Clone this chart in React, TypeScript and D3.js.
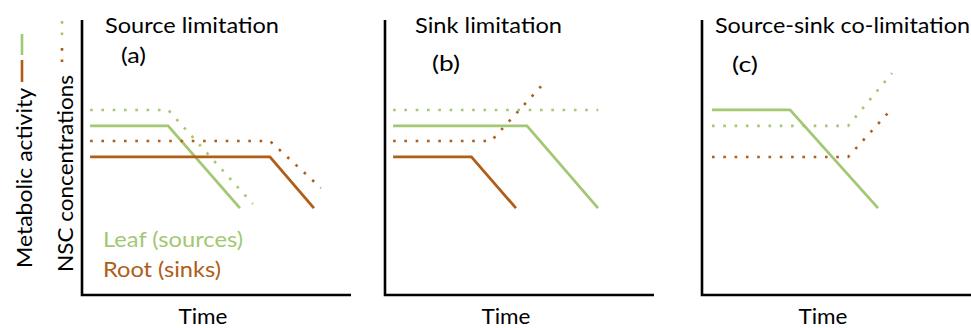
import React from "react";
import * as d3 from "d3";

// ---- data (time 0..100, level 0..100) ----
const panelTitles = ["Source limitation", "Sink limitation", "Source-sink co-limitation"];
const panelLabels = ["(a)", "(b)", "(c)"];
const xAxisLabel = "Time";
const yLabelActivity = "Metabolic activity";
const yLabelNSC = "NSC concentrations";
const legendNames = ["Leaf (sources)", "Root (sinks)"];

// Panel (a) Source limitation
const aLeafNSC = [[3, 67.3], [31.9, 67.3], [63.3, 33.1]];
const aLeafActivity = [[3, 61.5], [31.9, 61.5], [58.5, 31.6]];
const aRootNSC = [[3, 56], [69.6, 56], [88.5, 38.9]];
const aRootActivity = [[3, 50.2], [69.6, 50.2], [85.9, 31.6]];

// Panel (b) Sink limitation
const bLeafNSC = [[3, 67.3], [79, 67.3]];
const bLeafActivity = [[3, 61.5], [52.6, 61.5], [78.9, 31.6]];
const bRootNSC = [[3, 56], [39.3, 56], [59.3, 77.5]];
const bRootActivity = [[3, 50.2], [32, 50.2], [48.5, 31.6]];

// Panel (c) Source-sink co-limitation
const cLeafActivity = [[3.7, 67.3], [32.6, 67.3], [65.2, 31.6]];
const cLeafNSC = [[3.7, 61.5], [54.1, 61.5], [70.4, 80.7]];
const cRootNSC = [[3.7, 50.2], [54.1, 50.2], [68.9, 66.2]];

const GREEN = "#a2c873";
const BROWN = "#b05d17";
const FONT = "Lato, 'Open Sans', sans-serif";

type Series = { pts: number[][]; color: string; dotted: boolean };

const panels: { series: Series[] }[] = [
  {
    series: [
      { pts: aLeafNSC, color: GREEN, dotted: true },
      { pts: aLeafActivity, color: GREEN, dotted: false },
      { pts: aRootNSC, color: BROWN, dotted: true },
      { pts: aRootActivity, color: BROWN, dotted: false },
    ],
  },
  {
    series: [
      { pts: bLeafNSC, color: GREEN, dotted: true },
      { pts: bLeafActivity, color: GREEN, dotted: false },
      { pts: bRootNSC, color: BROWN, dotted: true },
      { pts: bRootActivity, color: BROWN, dotted: false },
    ],
  },
  {
    series: [
      { pts: cLeafActivity, color: GREEN, dotted: false },
      { pts: cLeafNSC, color: GREEN, dotted: true },
      { pts: cRootNSC, color: BROWN, dotted: true },
    ],
  },
];

const originsX = [82, 385, 702];
const axisEnd = [351, 654, 971];
const titleDx = [23, 30, 13];
const titleLen = [174, 147, 255];
const labelDx = [39, 47, 30];
const labelLen = [25, 28, 26];
const labelY = [63, 71, 72];
const W = 971;
const H = 328;
const TOP = 20;
const BOTTOM = 295;
const FS = 22;

export default function App() {
  const y = d3.scaleLinear().domain([0, 100]).range([BOTTOM, TOP]);
  const tp = { fontFamily: FONT, fontSize: FS, lengthAdjust: "spacingAndGlyphs" as const };
  return (
    <svg width={W} height={H} style={{ position: "absolute", left: 0, top: 0, background: "#fff" }}>
      {panels.map((p, i) => {
        const x0 = originsX[i];
        const x = d3.scaleLinear().domain([0, 100]).range([x0, x0 + 270]);
        const line = d3
          .line<number[]>()
          .x((d) => x(d[0]))
          .y((d) => y(d[1]));
        return (
          <g key={i}>
            <path
              d={`M${x0},${TOP}V${BOTTOM}H${axisEnd[i]}`}
              fill="none"
              stroke="#000"
              strokeWidth={2.6}
            />
            {p.series.map((s, j) => (
              <path
                key={j}
                d={line(s.pts) || ""}
                fill="none"
                stroke={s.color}
                strokeWidth={s.dotted ? 2.6 : 2.8}
                strokeDasharray={s.dotted ? "2.6 8.7" : undefined}
              />
            ))}
            <text x={x0 + titleDx[i]} y={33} {...tp} textLength={titleLen[i]} fill="#000">
              {panelTitles[i]}
            </text>
            <text x={x0 + labelDx[i]} y={labelY[i]} {...tp} textLength={labelLen[i]} fill="#000">
              {panelLabels[i]}
            </text>
            <text x={x0 + 121 - 24.5} y={324} {...tp} textLength={49} fill="#000">
              {xAxisLabel}
            </text>
          </g>
        );
      })}
      {/* y labels */}
      <text transform="translate(32,268) rotate(-90)" {...tp} textLength={180} fill="#000">
        {yLabelActivity}
      </text>
      <line x1={22} x2={22} y1={82} y2={60} stroke={BROWN} strokeWidth={2.6} />
      <line x1={22} x2={22} y1={55} y2={34} stroke={GREEN} strokeWidth={2.6} />
      <text transform="translate(73,272) rotate(-90)" {...tp} textLength={197} fill="#000">
        {yLabelNSC}
      </text>
      <line x1={62} x2={62} y1={62} y2={47} stroke={BROWN} strokeWidth={2.6} strokeDasharray="2.6 8.7" />
      <line x1={62} x2={62} y1={35} y2={20} stroke={GREEN} strokeWidth={2.6} strokeDasharray="2.6 8.7" />
      {/* legend */}
      <text x={103} y={247} {...tp} textLength={140} fill={GREEN}>
        {legendNames[0]}
      </text>
      <text x={103} y={277} {...tp} textLength={118} fill={BROWN}>
        {legendNames[1]}
      </text>
    </svg>
  );
}
